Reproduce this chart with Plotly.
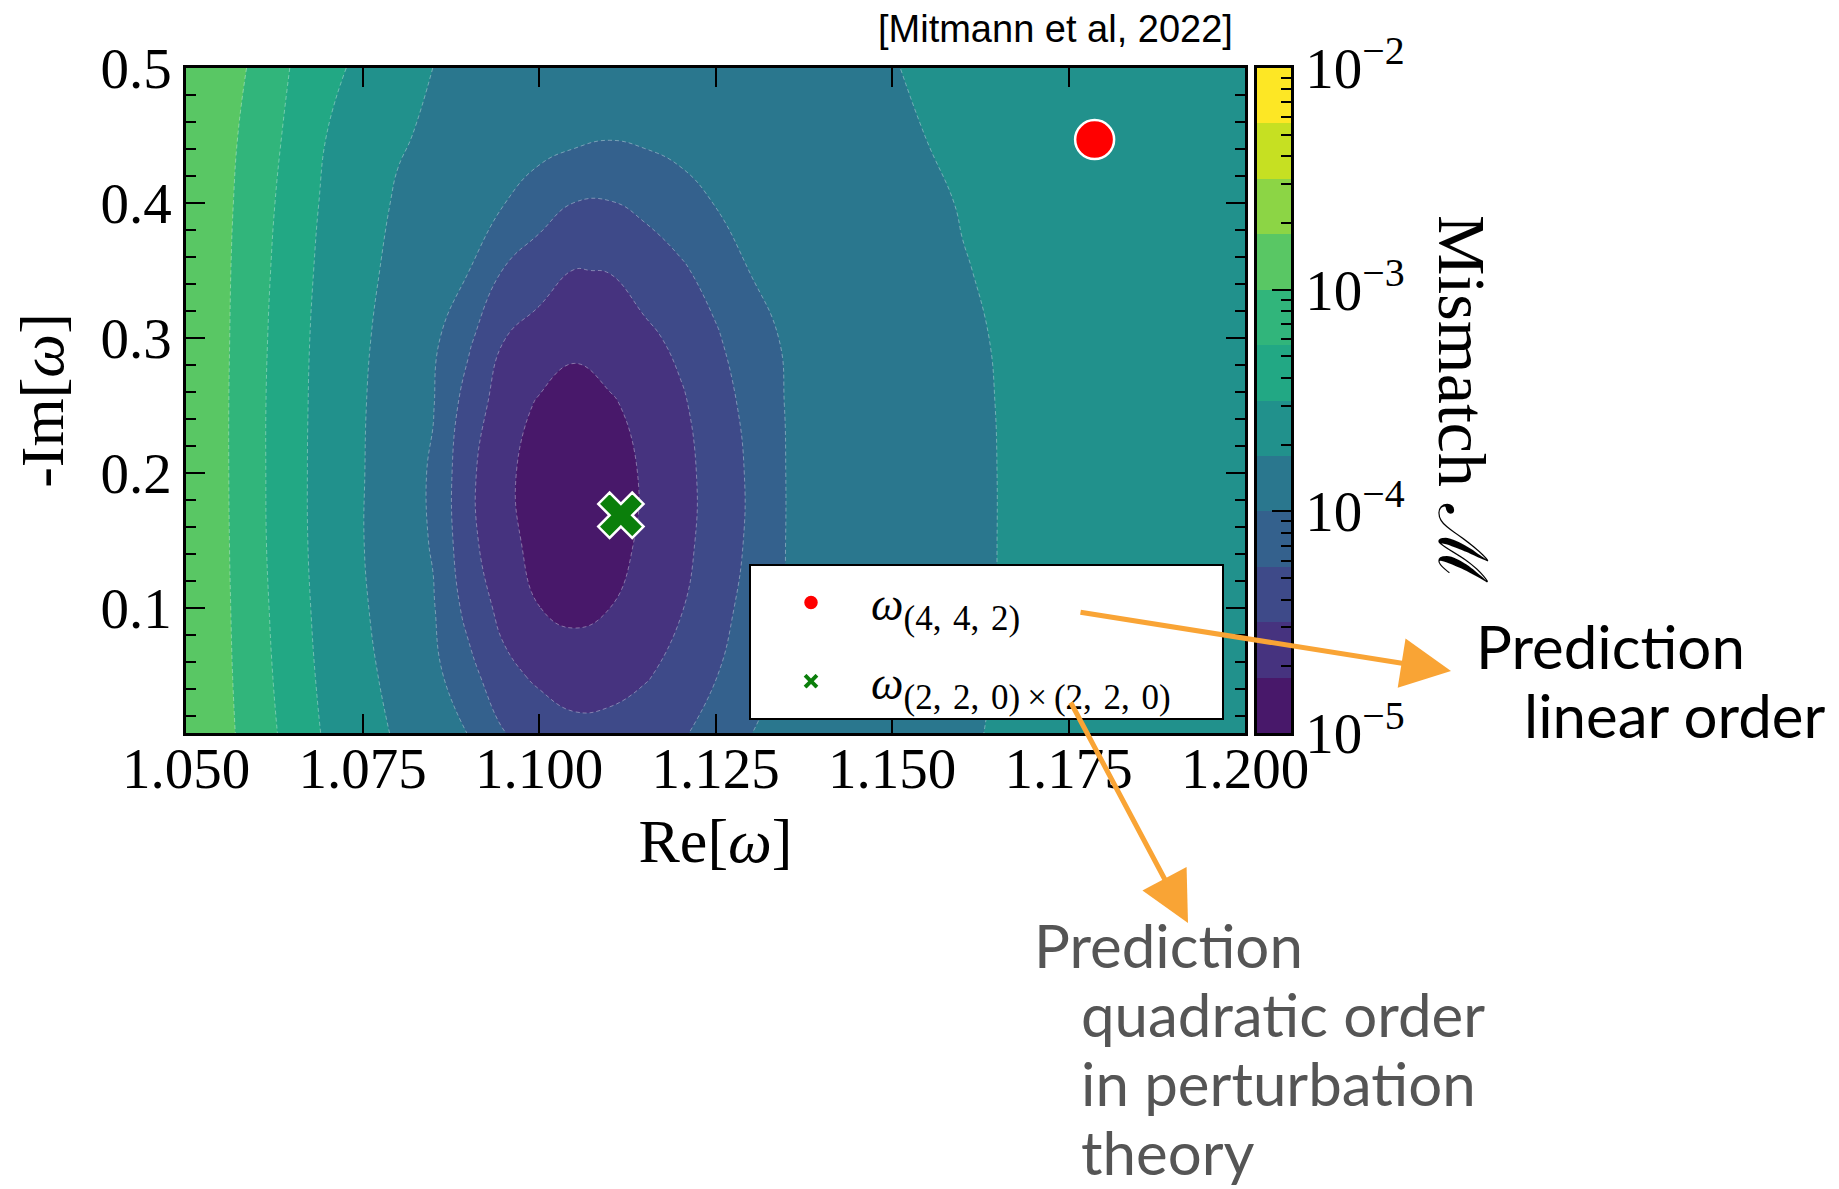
import math
import plotly.graph_objects as go

# ---------------- data ----------------
re_omega = [1.050, 1.055, 1.060, 1.065, 1.070, 1.075, 1.080, 1.085, 1.090, 1.095,
            1.100, 1.105, 1.110, 1.115, 1.120, 1.125, 1.130, 1.135, 1.140, 1.145,
            1.150, 1.155, 1.160, 1.165, 1.170, 1.175, 1.180, 1.185, 1.190, 1.195, 1.200]
minus_im_omega = [0.00, 0.05, 0.10, 0.15, 0.20, 0.25, 0.30, 0.35, 0.40, 0.45, 0.50]

# log10 of the mismatch, one row per -Im[omega] value
log10_mismatch = [
    [-2.82, -2.930, -3.100, -3.344, -3.529, -3.652, -3.770, -3.873, -3.975, -4.207, -4.321, -4.406, -4.399, -4.330, -4.261, -4.108, -3.987, -3.950, -3.913, -3.876, -3.839, -3.802, -3.765, -3.738, -3.718, -3.699, -3.679, -3.659, -3.639, -3.620, -3.600],
    [-2.82, -2.935, -3.138, -3.383, -3.560, -3.696, -3.819, -3.935, -4.162, -4.429, -4.545, -4.608, -4.588, -4.524, -4.409, -4.262, -4.065, -3.973, -3.934, -3.895, -3.856, -3.817, -3.778, -3.744, -3.723, -3.703, -3.682, -3.662, -3.641, -3.621, -3.600],
    [-2.82, -2.940, -3.164, -3.407, -3.581, -3.727, -3.855, -3.980, -4.331, -4.578, -4.747, -4.810, -4.751, -4.634, -4.517, -4.351, -4.159, -3.989, -3.949, -3.908, -3.868, -3.827, -3.787, -3.748, -3.727, -3.706, -3.684, -3.663, -3.642, -3.621, -3.600],
    [-2.82, -2.945, -3.184, -3.422, -3.595, -3.744, -3.875, -4.019, -4.429, -4.682, -4.821, -4.923, -4.828, -4.715, -4.570, -4.403, -4.209, -3.997, -3.956, -3.914, -3.873, -3.832, -3.791, -3.749, -3.729, -3.707, -3.686, -3.664, -3.643, -3.621, -3.600],
    [-2.82, -2.949, -3.188, -3.425, -3.596, -3.741, -3.875, -4.028, -4.441, -4.702, -4.836, -4.941, -4.840, -4.726, -4.577, -4.409, -4.214, -3.998, -3.956, -3.914, -3.873, -3.831, -3.790, -3.749, -3.728, -3.707, -3.685, -3.664, -3.643, -3.621, -3.600],
    [-2.82, -2.949, -3.188, -3.422, -3.592, -3.736, -3.863, -3.988, -4.361, -4.621, -4.779, -4.861, -4.783, -4.670, -4.537, -4.370, -4.174, -3.991, -3.950, -3.908, -3.867, -3.826, -3.785, -3.747, -3.726, -3.705, -3.684, -3.663, -3.642, -3.621, -3.600],
    [-2.82, -2.945, -3.175, -3.414, -3.583, -3.722, -3.839, -3.949, -4.205, -4.494, -4.590, -4.683, -4.624, -4.550, -4.445, -4.283, -4.086, -3.977, -3.936, -3.896, -3.855, -3.815, -3.774, -3.742, -3.722, -3.701, -3.681, -3.661, -3.641, -3.620, -3.600],
    [-2.82, -2.942, -3.155, -3.394, -3.566, -3.697, -3.806, -3.900, -3.994, -4.261, -4.398, -4.505, -4.494, -4.392, -4.291, -4.144, -3.993, -3.953, -3.914, -3.875, -3.835, -3.796, -3.756, -3.734, -3.715, -3.696, -3.677, -3.657, -3.638, -3.619, -3.600],
    [-2.82, -2.935, -3.125, -3.365, -3.542, -3.666, -3.773, -3.846, -3.920, -3.993, -4.126, -4.253, -4.262, -4.192, -4.084, -3.992, -3.955, -3.919, -3.882, -3.845, -3.809, -3.772, -3.743, -3.725, -3.707, -3.689, -3.671, -3.654, -3.636, -3.618, -3.600],
    [-2.82, -2.927, -3.083, -3.318, -3.504, -3.616, -3.728, -3.782, -3.821, -3.861, -3.901, -3.940, -3.980, -3.954, -3.928, -3.902, -3.877, -3.851, -3.825, -3.799, -3.773, -3.748, -3.732, -3.715, -3.699, -3.682, -3.666, -3.649, -3.633, -3.617, -3.600],
    [-2.82, -2.917, -3.033, -3.264, -3.432, -3.558, -3.654, -3.751, -3.785, -3.820, -3.856, -3.891, -3.926, -3.925, -3.901, -3.877, -3.852, -3.828, -3.803, -3.779, -3.754, -3.737, -3.722, -3.707, -3.692, -3.676, -3.661, -3.646, -3.631, -3.615, -3.600],
]

# contour levels (log10 of mismatch) and their colours
levels = [-5.0, -4.75, -4.5, -4.25, -4.0, -3.75, -3.5, -3.25, -3.0, -2.75, -2.5, -2.25, -2.0]
band_colors = ['#48186A', '#46337F', '#3E4A89', '#34618D', '#2A778E', '#21918C',
               '#22A884', '#31B57B', '#59C764', '#8CD545', '#C6E022', '#FDE725']

# predictions
linear_re = [1.1787]
linear_im = [0.447]
quad_re = [1.1116]
quad_im = [0.1687]

x_tickvals = [1.050, 1.075, 1.100, 1.125, 1.150, 1.175, 1.200]
y_tickvals = [0.1, 0.2, 0.3, 0.4, 0.5]
cbar_tickvals = [-5, -4, -3, -2]
cbar_ticktext = ['10<sup>\u22125</sup>', '10<sup>\u22124</sup>', '10<sup>\u22123</sup>', '10<sup>\u22122</sup>']
cbar_minor_mult = [2, 3, 4, 5, 6, 7, 8, 9]

# ---------------- figure ----------------
OFF = 8                      # page body margin
W, H = 1839 - OFF, 1189 - OFF
SERIF = 'Liberation Serif'
SANS = 'Lato'
ORANGE = '#F9A435'

def px_x(p):
    return (p - OFF) / W

def px_y(p):
    return 1 - (p - OFF) / H

# contour colorscale: plotly maps band midpoints to positions (k+1)/13
n_lev = len(levels)
contour_cs = []
for k, c in enumerate(band_colors):
    lo = 0.0 if k == 0 else (k + 0.5) / n_lev
    hi = 1.0 if k == len(band_colors) - 1 else (k + 1.5) / n_lev
    contour_cs.append([lo, c])
    contour_cs.append([hi, c])

# colorbar colorscale (direct, 12 equal bands)
nb = len(band_colors)
cbar_cs = []
for k, c in enumerate(band_colors):
    cbar_cs.append([k / nb, c])
    cbar_cs.append([(k + 1) / nb, c])
band_mid = [(levels[i] + levels[i + 1]) / 2 for i in range(nb)]
cbar_minor = [e + math.log10(m) for e in cbar_tickvals[:-1] for m in cbar_minor_mult]

SUB = '<sub><span style="font-size:35px">{}</span></sub>'

fig = go.Figure()

fig.add_trace(go.Contour(
    x=re_omega, y=minus_im_omega, z=log10_mismatch,
    autocontour=False,
    contours=dict(start=levels[0], end=levels[-1], size=levels[1] - levels[0],
                  coloring='fill', showlines=True),
    line=dict(color='rgba(255,255,255,0.45)', width=0.8, dash='4px,3px', smoothing=1.3),
    colorscale=contour_cs, showscale=False, hoverinfo='skip', showlegend=False,
))

fig.add_trace(go.Scatter(
    x=linear_re, y=linear_im, mode='markers',
    marker=dict(symbol='circle', size=39, color='#FF0000', line=dict(color='white', width=2.5)),
    name='<i>\u03c9</i>' + SUB.format('(4,\u20044,\u20042)'), legendgroup='a',
))
fig.add_trace(go.Scatter(
    x=quad_re, y=quad_im, mode='markers',
    marker=dict(symbol='x', size=40, color='#0B7F0B', line=dict(color='white', width=2.5)),
    name='<i>\u03c9</i>' + SUB.format('(2,\u20042,\u20040)\u2009\u00d7\u2009(2,\u20042,\u20040)') + '\u2002\u2002',
    legendgroup='b',
))

# colorbar drawn as its own small axis pair
fig.add_trace(go.Heatmap(
    x=[0, 1], y=levels, z=[[m] for m in band_mid],
    xaxis='x2', yaxis='y2', zmin=levels[0], zmax=levels[-1],
    colorscale=cbar_cs, showscale=False, hoverinfo='skip', showlegend=False,
))

plot_x0, plot_x1 = 186, 1245
plot_y0, plot_y1 = 68, 733
cb_x0, cb_x1 = 1257, 1291

axis_common = dict(
    showgrid=False, zeroline=False, showline=True, linecolor='black', linewidth=2.5,
    ticks='inside', tickcolor='black', tickwidth=2, ticklen=19, automargin=False,
    tickfont=dict(family=SERIF, size=57, color='black'),
)

fig.update_layout(
    width=W, height=H,
    margin=dict(l=0, r=0, t=0, b=0, autoexpand=False),
    paper_bgcolor='white', plot_bgcolor='white',
    xaxis=dict(
        domain=[px_x(plot_x0), px_x(plot_x1)], range=[re_omega[0], re_omega[-1]],
        tickvals=x_tickvals, tickformat='.3f', mirror='ticks', ticklabelstandoff=-16,
        title=dict(text='Re[<i>\u03c9</i>]', font=dict(family=SERIF, size=62, color='black'), standoff=20),
        **axis_common,
    ),
    yaxis=dict(
        domain=[px_y(plot_y1), px_y(plot_y0)], range=[0.0074, 0.5],
        tickvals=y_tickvals, tickformat='.1f', mirror='ticks',
        minor=dict(dtick=0.02, tick0=0, ticks='inside', ticklen=10, tickwidth=2, tickcolor='black'),
        title=dict(text='-Im[<i>\u03c9</i>]', font=dict(family=SERIF, size=62, color='black'), standoff=18),
        **axis_common,
    ),
    xaxis2=dict(
        domain=[px_x(cb_x0), px_x(cb_x1)], range=[0, 1], anchor='y2', automargin=False,
        showgrid=False, zeroline=False, showticklabels=False, ticks='',
        showline=True, linecolor='black', linewidth=2.5, mirror=True,
    ),
    yaxis2=dict(
        domain=[px_y(plot_y1), px_y(plot_y0)], range=[levels[0], levels[-1]], anchor='x2',
        side='right', tickvals=cbar_tickvals, ticktext=cbar_ticktext, mirror=True,
        minor=dict(tickvals=cbar_minor, ticks='inside', ticklen=10, tickwidth=2, tickcolor='black'),
        **axis_common,
    ),
    legend=dict(
        x=px_x(749), y=px_y(564), xanchor='left', yanchor='top',
        bgcolor='white', bordercolor='black', borderwidth=2,
        font=dict(family=SERIF, size=46, color='black'),
        tracegroupgap=16, itemwidth=110,
    ),
    showlegend=True,
)

annotations = [
    dict(text='[Mitmann et al, 2022]', x=px_x(1235), y=px_y(29), xanchor='right', yanchor='middle',
         font=dict(family='Liberation Sans', size=38, color='black')),
    dict(text='Mismatch \u2133', x=px_x(1462), y=px_y(399), xanchor='center', yanchor='middle',
         textangle=90, font=dict(family=SERIF, size=68, color='black')),
    dict(text='Prediction', x=px_x(1474), y=px_y(646), xanchor='left', yanchor='middle',
         font=dict(family=SANS, size=60, color='black')),
    dict(text='linear order', x=px_x(1522), y=px_y(715), xanchor='left', yanchor='middle',
         font=dict(family=SANS, size=60, color='black')),
    dict(text='Prediction', x=px_x(1032), y=px_y(945), xanchor='left', yanchor='middle',
         font=dict(family=SANS, size=60, color='#555555')),
    dict(text='quadratic order', x=px_x(1079), y=px_y(1014), xanchor='left', yanchor='middle',
         font=dict(family=SANS, size=60, color='#555555')),
    dict(text='in perturbation', x=px_x(1079), y=px_y(1083), xanchor='left', yanchor='middle',
         font=dict(family=SANS, size=60, color='#555555')),
    dict(text='theory', x=px_x(1079), y=px_y(1152), xanchor='left', yanchor='middle',
         font=dict(family=SANS, size=60, color='#555555')),
    # arrows
    dict(text='', x=px_x(1451), y=px_y(671), ax=1079 - 1451, ay=612 - 671, axref='pixel', ayref='pixel',
         showarrow=True, arrowhead=2, arrowsize=2, arrowwidth=5, arrowcolor=ORANGE, standoff=0),
    dict(text='', x=px_x(1188), y=px_y(923), ax=1070 - 1188, ay=701 - 923, axref='pixel', ayref='pixel',
         showarrow=True, arrowhead=2, arrowsize=2, arrowwidth=5, arrowcolor=ORANGE, standoff=0),
]
for a in annotations:
    a.setdefault('showarrow', False)
    a['xref'] = 'paper'
    a['yref'] = 'paper'
fig.update_layout(annotations=annotations)

fig.write_html('out.html')
